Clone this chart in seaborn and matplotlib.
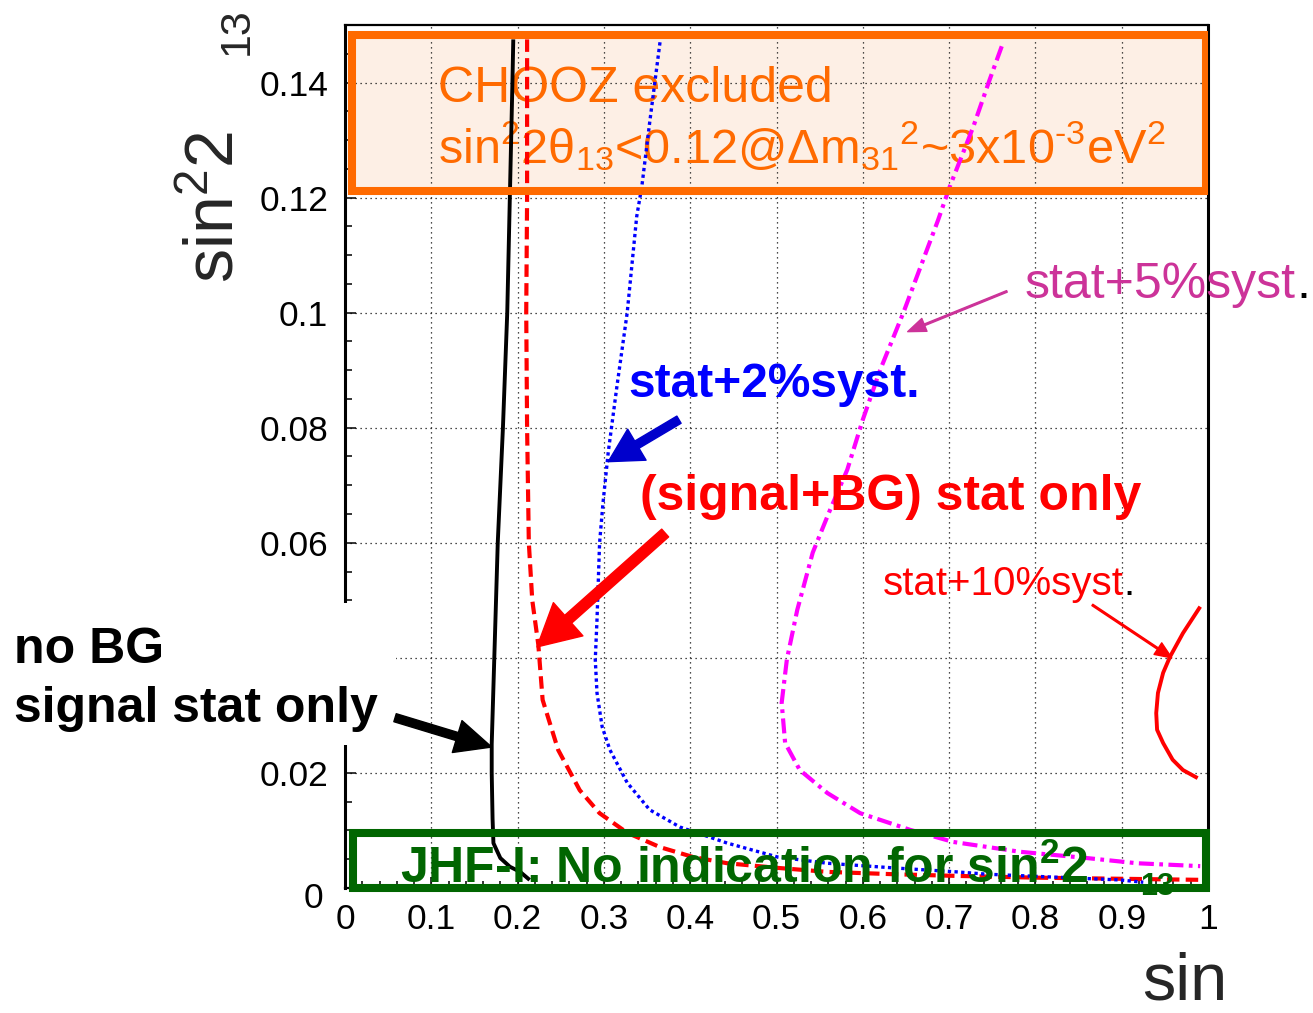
import matplotlib
matplotlib.use("Agg")
import matplotlib.pyplot as plt
import matplotlib.transforms as mtransforms
from matplotlib.patches import Rectangle
from matplotlib.ticker import MultipleLocator
import seaborn as sns

# ---- contour data: sin^2(2theta13) sensitivity vs. x-axis parameter ----
nobg_x = [0.195, 0.194, 0.191, 0.188, 0.183, 0.177, 0.173, 0.170, 0.170, 0.171,
          0.172, 0.180, 0.191, 0.203, 0.214]
nobg_y = [0.1475, 0.14, 0.12, 0.10, 0.08, 0.06, 0.04, 0.025, 0.02, 0.012,
          0.0078, 0.0052, 0.0037, 0.0028, 0.0014]

sigbg_x = [0.211, 0.211, 0.211, 0.210, 0.211, 0.213, 0.217, 0.224, 0.229, 0.247,
           0.272, 0.295, 0.327, 0.365, 0.403, 0.443, 0.501, 0.559, 0.635, 0.709,
           0.800, 0.900, 1.000]
sigbg_y = [0.1475, 0.14, 0.12, 0.10, 0.08, 0.06, 0.05, 0.0423, 0.0327, 0.024,
           0.017, 0.013, 0.0096, 0.0071, 0.0054, 0.0043, 0.0035, 0.0028, 0.0024,
           0.0021, 0.0018, 0.0016, 0.0014]

syst2_x = [0.365, 0.359, 0.353, 0.344, 0.338, 0.327, 0.315, 0.305, 0.299, 0.295,
           0.292, 0.290, 0.292, 0.298, 0.307, 0.327, 0.353, 0.388, 0.443, 0.501,
           0.559, 0.635, 0.709, 0.744, 0.820, 0.898, 0.925]
syst2_y = [0.147, 0.14, 0.133, 0.122, 0.1167, 0.10, 0.0871, 0.0757, 0.067, 0.06,
           0.0466, 0.0397, 0.0339, 0.028, 0.024, 0.0183, 0.0136, 0.0106, 0.0078,
           0.0054, 0.0043, 0.0035, 0.0028, 0.0024, 0.0019, 0.0014, 0.001]

syst5_x = [0.761, 0.747, 0.728, 0.701, 0.687, 0.647, 0.620, 0.600, 0.582, 0.562,
           0.542, 0.524, 0.512, 0.506, 0.510, 0.527, 0.559, 0.597, 0.655, 0.705,
           0.782, 0.860, 0.918, 0.991]
syst5_y = [0.1463, 0.1405, 0.1323, 0.122, 0.116, 0.10, 0.09, 0.0814, 0.0727, 0.0657,
           0.0583, 0.0483, 0.0397, 0.0322, 0.0252, 0.0205, 0.0165, 0.013, 0.0101,
           0.008, 0.0063, 0.0052, 0.0043, 0.0038]

syst10_x = [0.991, 0.971, 0.956, 0.948, 0.942, 0.940, 0.941, 0.948, 0.959, 0.971, 0.988]
syst10_y = [0.0489, 0.0443, 0.0402, 0.0374, 0.0339, 0.0304, 0.0275, 0.0252, 0.0223,
            0.0205, 0.0191]

x_ticks = [0, 0.1, 0.2, 0.3, 0.4, 0.5, 0.6, 0.7, 0.8, 0.9, 1]
x_tick_labels = ["0", "0.1", "0.2", "0.3", "0.4", "0.5", "0.6", "0.7", "0.8", "0.9", "1"]
y_ticks = [0, 0.02, 0.04, 0.06, 0.08, 0.1, 0.12, 0.14]
y_tick_labels = ["0", "0.02", "0.04", "0.06", "0.08", "0.1", "0.12", "0.14"]

# ---- style ----
sns.set_style("white")
plt.rcParams["font.family"] = ["Liberation Sans", "DejaVu Sans"]
plt.rcParams["mathtext.fontset"] = "custom"
plt.rcParams["mathtext.rm"] = "Liberation Sans"
plt.rcParams["mathtext.it"] = "Liberation Sans:italic"
plt.rcParams["mathtext.bf"] = "Liberation Sans:bold"

W, H = 1313, 1013
fig = plt.figure(figsize=(W / 100, H / 100), dpi=100)


def fpx(px, py):
    """Pixel position -> figure fraction."""
    return px / W, 1 - py / H


ax = fig.add_axes([345 / W, 1 - 888 / H, (1208 - 345) / W, (888 - 25) / H])
ax.set_xlim(0, 1)
ax.set_ylim(0, 0.15)

# grid and ticks
ax.set_xticks(x_ticks)
ax.set_xticklabels(x_tick_labels)
ax.set_yticks(y_ticks)
ax.set_yticklabels(y_tick_labels)
ax.xaxis.set_minor_locator(MultipleLocator(0.02))
ax.yaxis.set_minor_locator(MultipleLocator(0.005))
ax.grid(True, which="major", color="#111111", linestyle=(0, (1, 3)), linewidth=0.9)
ax.tick_params(axis="both", which="both", direction="in", colors="black",
               bottom=True, left=True, top=False, right=False)
ax.tick_params(axis="both", which="major", length=8, width=1.1, labelsize=25.5)
ax.tick_params(axis="both", which="minor", length=5, width=1.1)
ax.tick_params(axis="y", which="major", pad=12)
ax.tick_params(axis="x", which="major", pad=11)
for side, lw in [("left", 2.2), ("right", 2.2), ("top", 1.6), ("bottom", 1.6)]:
    ax.spines[side].set_visible(True)
    ax.spines[side].set_linewidth(lw)
    ax.spines[side].set_color("black")

# the "0" label on the y axis sits a little lower and further left
ylab0 = ax.get_yticklabels()[0]
ylab0.set_transform(ylab0.get_transform() +
                    mtransforms.ScaledTranslation(-5 / 100, -7 / 100, fig.dpi_scale_trans))

# ---- CHOOZ excluded region ----
ax.add_patch(Rectangle((0.008, 0.1212), 0.990, 0.0271, facecolor="#fdefe5",
                       edgecolor="none", zorder=0.3))
ax.add_patch(Rectangle((0.008, 0.1212), 0.990, 0.0271, facecolor="none",
                       edgecolor="#ff6a00", linewidth=5.8, zorder=4))
ax.text(0.1078, 0.1366, "CHOOZ excluded", color="#ff6a00", fontsize=36, zorder=2.5)
ax.text(0.1078, 0.1260,
        "sin$^2$2θ$_{13}$<0.12@Δm$_{31}{}^2$~3x10$^{‐3}$eV$^2$",
        color="#ff6a00", fontsize=35, zorder=2.5)


# ---- sensitivity contours ----
def contour(xs, ys, color, lw, ls="-"):
    sns.lineplot(x=xs, y=ys, sort=False, estimator=None, ax=ax, color=color)
    line = ax.lines[-1]
    line.set_linewidth(lw)
    line.set_linestyle(ls)
    line.set_zorder(3)
    line.set_solid_capstyle("butt")
    line.set_dash_capstyle("butt")


contour(nobg_x, nobg_y, "black", 2.8)
contour(sigbg_x, sigbg_y, "#ff0000", 3.0, (0, (3.0, 1.5)))
contour(syst2_x, syst2_y, "#0000ff", 2.4, (0, (1, 1.0)))
contour(syst5_x, syst5_y, "#ff00ff", 3.0, (0, (3.6, 1.3, 0.9, 1.3)))
contour(syst10_x, syst10_y, "#ff0000", 2.8)

# ---- JHF-I box ----
ax.add_patch(Rectangle((0.009, 0.0), 0.989, 0.0096, facecolor="none",
                       edgecolor="#016601", linewidth=5.8, zorder=4, clip_on=False))
ax.text(0.0637, 0.00087, r"JHF-I: No indication for sin$^\mathbf{2}$2",
        color="#016601", fontsize=36, fontweight="bold", zorder=5)
ax.text(0.921, -0.0012, "13", color="#016601", fontsize=22, fontweight="bold",
        zorder=5, clip_on=False)

# ---- curve labels and arrows ----
t5 = ax.text(0.788, 0.1026, "stat+5%syst", color="#cc3399", fontsize=36,
             zorder=5, clip_on=False)
ax.annotate(".", xy=(1, 0), xycoords=t5, va="bottom", ha="left",
            fontsize=36, color="black", annotation_clip=False)
ax.annotate("", xy=(0.652, 0.0967), xytext=(0.767, 0.1037),
            arrowprops=dict(color="#cc3399", width=1.2, headwidth=10, headlength=13,
                            shrink=0), zorder=5)

ax.text(0.328, 0.0853, "stat+2%syst.", color="#0000ff", fontsize=34.5,
        fontweight="bold", zorder=5)
ax.annotate("", xy=(0.305, 0.0741), xytext=(0.387, 0.0814),
            arrowprops=dict(color="#0000cc", width=6, headwidth=26, headlength=24,
                            shrink=0), zorder=5)

ax.text(0.342, 0.0657, "(signal+BG) stat only", color="#ff0000", fontsize=36,
        fontweight="bold", zorder=5)
ax.annotate("", xy=(0.2225, 0.0419), xytext=(0.371, 0.0617),
            arrowprops=dict(color="#ff0000", width=7.5, headwidth=32, headlength=30,
                            shrink=0), zorder=5)

t10 = ax.text(0.623, 0.0509, "stat+10%syst", color="#ff0000", fontsize=29, zorder=5)
ax.annotate(".", xy=(1, 0), xycoords=t10, va="bottom", ha="left",
            fontsize=29, color="black", annotation_clip=False)
ax.annotate("", xy=(0.958, 0.0400), xytext=(0.866, 0.0492),
            arrowprops=dict(color="#ff0000", width=1.2, headwidth=10, headlength=12,
                            shrink=0), zorder=5)

# white backing behind the left-hand label
ax.add_patch(Rectangle(fpx(0, 745), 396 / W, (745 - 603) / H, transform=fig.transFigure,
                       facecolor="white", edgecolor="none", zorder=6, clip_on=False))
ax.annotate("", xy=(0.170, 0.0245), xytext=(0.058, 0.0296),
            arrowprops=dict(color="black", width=6, headwidth=24, headlength=26,
                            shrink=0), zorder=7, annotation_clip=False)
fig.text(*fpx(14, 663), "no BG", fontsize=36, fontweight="bold", color="black",
         va="baseline", ha="left", zorder=8)
fig.text(*fpx(14, 722), "signal stat only", fontsize=36, fontweight="bold",
         color="black", va="baseline", ha="left", zorder=8)

# ---- axis titles ----
fig.text(*fpx(233, 283), "sin$^2$2", fontsize=49, rotation=90, rotation_mode="anchor",
         ha="left", va="baseline")
fig.text(*fpx(248, 55), "13", fontsize=31, rotation=90, rotation_mode="anchor",
         ha="left", va="baseline")
fig.text(*fpx(1142, 999), "sin", fontsize=48, ha="left", va="baseline")

fig.savefig("out.png", dpi=100)
